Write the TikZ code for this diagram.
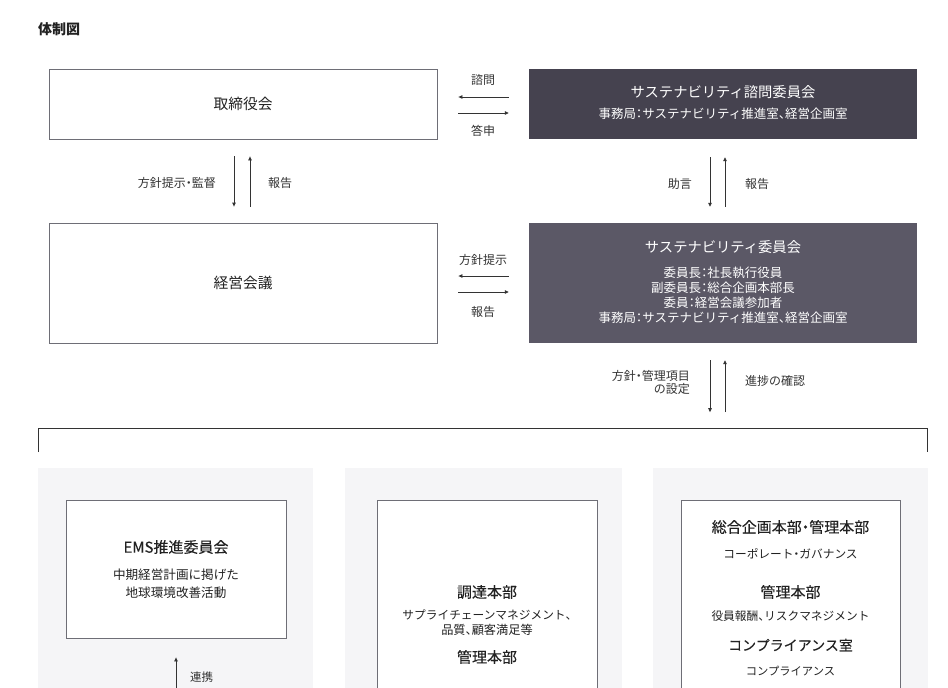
\documentclass[tikz,border=0pt]{standalone}
\usepackage{fontspec}
\setmainfont{Noto Sans CJK JP}
\newfontfamily\pfont{Noto Sans CJK JP}[RawFeature=+halt]
\newfontfamily\medfont{Noto Sans CJK JP}[FakeBold=0.12]
\newfontfamily\medpfont{Noto Sans CJK JP}[FakeBold=0.12,RawFeature=+halt]
\newcommand{\pp}[1]{{\pfont #1}}
\newcommand{\mpp}[1]{{\medpfont #1}}
\usetikzlibrary{arrows.meta,calc}
\definecolor{darkA}{HTML}{45424F}
\definecolor{darkB}{HTML}{5B5866}
\definecolor{panelbg}{HTML}{F5F5F7}
\definecolor{boxline}{HTML}{6E6E76}
\definecolor{linec}{HTML}{333333}
\definecolor{txt}{HTML}{222222}
\tikzset{
  wbox/.style={draw=boxline, line width=0.8pt, fill=white, inner sep=0pt},
  dbox/.style={inner sep=0pt},
  panel/.style={fill=panelbg, draw=none},
  arr/.style={draw=linec, line width=0.8pt, -{Triangle[length=4pt,width=3.5pt]}},
  bline/.style={draw=linec, line width=0.8pt},
  lab/.style={text=linec, inner sep=0pt, font=\fontsize{12}{13}\selectfont},
  ttl/.style={text=txt, inner sep=0pt, font=\fontsize{14.75}{16}\selectfont},
  pttl/.style={text=txt, inner sep=0pt, font=\fontsize{15}{16}\medfont},
  wttl/.style={text=white, inner sep=0pt, font=\fontsize{14.3}{16}\selectfont},
  wsub/.style={text=white, inner sep=0pt, font=\fontsize{12.5}{15}\selectfont},
  sub/.style={text=txt, inner sep=0pt, font=\fontsize{11.7}{15}\selectfont},
}
\begin{document}
\begin{tikzpicture}[x=1pt,y=-1pt]
\useasboundingbox (0,0) rectangle (948,688);
\clip (0,0) rectangle (948,688);
\fill[white] (0,0) rectangle (948,688);

\node[ttl, font=\fontsize{14}{16}\selectfont\bfseries, anchor=west] (title) at (38,29) {体制図};

% top row
\node[wbox, minimum width=388pt, minimum height=70pt] (board) at (243,104) {};
\node[ttl] (boardT) at (board.center) {取締役会};
\node[dbox, fill=darkA, minimum width=388pt, minimum height=70pt] (advisory) at (723,104) {};
\node[wttl] (advT) at (723,92) {サステナビリティ諮問委員会};
\node[wsub] (advS) at (723,114) {事務局\pp{：}サステナビリティ推進室\pp{、}経営企画室};

% second row
\node[wbox, minimum width=388pt, minimum height=120pt] (keiei) at (243,283) {};
\node[ttl] (keieiT) at (keiei.center) {経営会議};
\node[dbox, fill=darkB, minimum width=388pt, minimum height=120pt] (sustain) at (723,283) {};
\node[wttl] (susT) at (723,247) {サステナビリティ委員会};
\node[wsub] (susS1) at (723,273) {委員長\pp{：}社長執行役員};
\node[wsub] (susS2) at (723,288) {副委員長\pp{：}総合企画本部長};
\node[wsub] (susS3) at (723,303) {委員\pp{：}経営会議参加者};
\node[wsub] (susS4) at (723,318) {事務局\pp{：}サステナビリティ推進室\pp{、}経営企画室};

% horizontal arrows
\draw[arr] ($(advisory.west)+(-20,-7)$) -- ($(board.east)+(21,-7)$);
\draw[arr] ($(board.east)+(21,9)$) -- ($(advisory.west)+(-20,9)$);
\node[lab] (l1) at (483,80) {諮問};
\node[lab] (l2) at (483,131) {答申};
\draw[arr] ($(sustain.west)+(-20,-7)$) -- ($(keiei.east)+(21,-7)$);
\draw[arr] ($(keiei.east)+(21,9)$) -- ($(sustain.west)+(-20,9)$);
\node[lab] (l3) at (483,260) {方針提示};
\node[lab] (l4) at (483,312) {報告};

% vertical arrows left
\draw[arr] ($(board.south)+(-9,17)$) -- ($(keiei.north)+(-9,-16)$);
\draw[arr] ($(keiei.north)+(7,-16)$) -- ($(board.south)+(7,17)$);
\node[lab, anchor=east] (l5) at (216,183) {方針提示\pp{・}監督};
\node[lab, anchor=west] (l6) at (268,183) {報告};

% vertical arrows right
\draw[arr] ($(advisory.south)+(-13,18)$) -- ($(sustain.north)+(-13,-16)$);
\draw[arr] ($(sustain.north)+(2,-16)$) -- ($(advisory.south)+(2,18)$);
\node[lab, anchor=east] (l7) at (692,184) {助言};
\node[lab, anchor=west] (l8) at (745,184) {報告};

% down to bracket
\coordinate (dEnd) at ($(sustain.south)+(-13,69)$);
\coordinate (uStart) at ($(sustain.south)+(2,69)$);
\draw[arr] ($(sustain.south)+(-13,17)$) -- (dEnd);
\draw[arr] (uStart) -- ($(sustain.south)+(2,17)$);
\node[lab, anchor=east, align=right] (l9) at (690,382.5) {方針\pp{・}管理項目\\の設定};
\node[lab, anchor=west] (l10) at (745,381) {進捗の確認};

% bracket
\coordinate (brL) at (38,452);
\coordinate (brTL) at (38,428);
\coordinate (brTR) at (927,428);
\coordinate (brR) at (927,452);
\draw[bline] (brL) -- (brTL) -- (brTR) -- (brR);

% panels
\fill[panel] (38,468) rectangle (313,700);
\fill[panel] (345,468) rectangle (622,700);
\fill[panel] (653,468) rectangle (928,700);

% panel 1
\node[wbox, minimum width=220pt, minimum height=138pt] (ems) at (176,569) {};
\node[pttl] (emsT) at (176,547) {EMS推進委員会};
\node[sub, font=\fontsize{12.6}{15}\selectfont] (emsS1) at (176,575) {中期経営計画に掲げた};
\node[sub, font=\fontsize{12.6}{15}\selectfont] (emsS2) at (176,593) {地球環境改善活動};
\coordinate (emsFoot) at (176,700);
\draw[arr] (emsFoot) -- ($(ems.south)+(0,19)$);
\node[lab, anchor=west, font=\fontsize{11.5}{13}\selectfont] (l11) at (190,677) {連携};

% panel 2
\node[wbox, minimum width=220pt, minimum height=220pt] (proc) at (487,610) {};
\node[pttl] (procT) at (487,592) {調達本部};
\node[sub, font=\fontsize{11.7}{15}\selectfont] (procS1) at (487,615) {サプライチェーンマネジメント\pp{、}};
\node[sub, font=\fontsize{12.2}{15}\selectfont] (procS2) at (487,630) {品質\pp{、}顧客満足等};
\node[pttl] (procT2) at (487,657) {管理本部};

% panel 3
\node[wbox, minimum width=219pt, minimum height=220pt] (corp) at (790.5,610) {};
\node[pttl] (corpT1) at (790.5,527) {総合企画本部\mpp{・}管理本部};
\node[sub] (corpS1) at (790.5,554) {コーポレート\pp{・}ガバナンス};
\node[pttl] (corpT2) at (790.5,592) {管理本部};
\node[sub] (corpS2) at (790.5,616) {役員報酬\pp{、}リスクマネジメント};
\node[pttl, font=\fontsize{14}{16}\medfont] (corpT3) at (790.5,645) {コンプライアンス室};
\node[sub, font=\fontsize{11.3}{15}\selectfont] (corpS3) at (790.5,671) {コンプライアンス};
\end{tikzpicture}
\end{document}
